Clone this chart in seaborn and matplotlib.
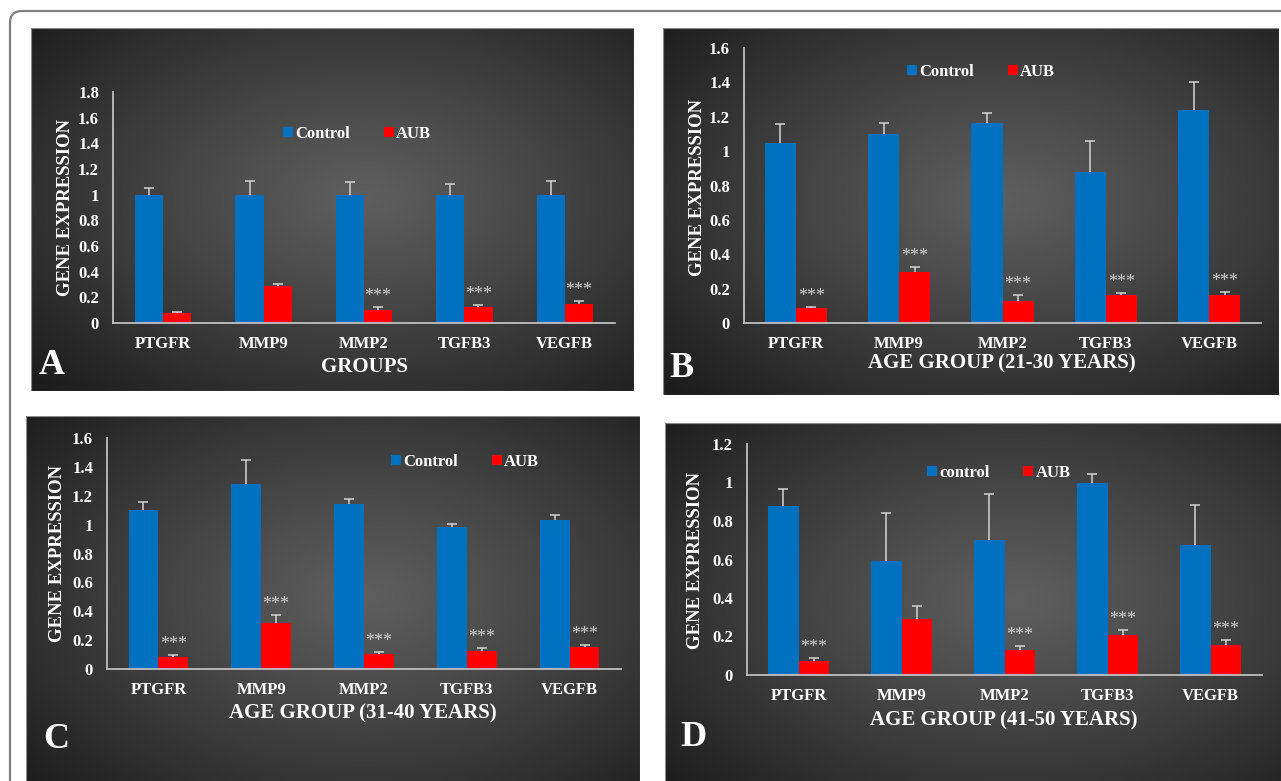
import numpy as np
import pandas as pd
import matplotlib.pyplot as plt
import seaborn as sns
from matplotlib.patches import Patch, FancyBboxPatch, Rectangle
from matplotlib.ticker import FuncFormatter, MultipleLocator
from matplotlib.transforms import IdentityTransform

genes = ["PTGFR", "MMP9", "MMP2", "TGFB3", "VEGFB"]

# A - all groups
a_control = [1.0, 1.0, 1.0, 1.0, 1.0]
a_control_err = [0.05, 0.11, 0.10, 0.08, 0.11]
a_aub = [0.08, 0.285, 0.105, 0.125, 0.148]
a_aub_err = [0.004, 0.02, 0.02, 0.013, 0.02]
a_stars = [False, False, True, True, True]

# B - 21-30 years
b_control = [1.047, 1.10, 1.166, 0.877, 1.241]
b_control_err = [0.111, 0.064, 0.058, 0.182, 0.163]
b_aub = [0.085, 0.295, 0.13, 0.161, 0.161]
b_aub_err = [0.008, 0.029, 0.031, 0.014, 0.021]
b_stars = [True, True, True, True, True]

# C - 31-40 years
c_control = [1.104, 1.282, 1.141, 0.982, 1.035]
c_control_err = [0.055, 0.168, 0.037, 0.023, 0.034]
c_aub = [0.085, 0.318, 0.106, 0.122, 0.15]
c_aub_err = [0.010, 0.054, 0.014, 0.026, 0.016]
c_stars = [True, True, True, True, True]

# D - 41-50 years
d_control = [0.878, 0.592, 0.70, 0.999, 0.674]
d_control_err = [0.086, 0.251, 0.239, 0.045, 0.211]
d_aub = [0.074, 0.293, 0.128, 0.206, 0.154]
d_aub_err = [0.014, 0.065, 0.024, 0.028, 0.028]
d_stars = [True, False, True, True, True]

panels = [
    dict(letter="A", xtitle="GROUPS", ctrl_name="Control", ymax=1.8,
         control=a_control, control_err=a_control_err, aub=a_aub, aub_err=a_aub_err, stars=a_stars,
         bg=(31, 28, 634, 391), ax=(113, 92, 615, 323), width=0.56,
         legend=(357, 134), ylab=(66, 207), xt=(365, 367), lt=(52, 366)),
    dict(letter="B", xtitle="AGE GROUP (21-30 YEARS)", ctrl_name="Control", ymax=1.6,
         control=b_control, control_err=b_control_err, aub=b_aub, aub_err=b_aub_err, stars=b_stars,
         bg=(663, 28, 1279, 395), ax=(744, 48, 1261, 323), width=0.6,
         legend=(981, 72), ylab=(697, 187), xt=(1002, 363), lt=(682, 368)),
    dict(letter="C", xtitle="AGE GROUP (31-40 YEARS)", ctrl_name="Control", ymax=1.6,
         control=c_control, control_err=c_control_err, aub=c_aub, aub_err=c_aub_err, stars=c_stars,
         bg=(26, 416, 640, 800), ax=(107, 438, 621, 669), width=0.58,
         legend=(465, 462), ylab=(58, 553), xt=(363, 713), lt=(56, 740)),
    dict(letter="D", xtitle="AGE GROUP (41-50 YEARS)", ctrl_name="control", ymax=1.2,
         control=d_control, control_err=d_control_err, aub=d_aub, aub_err=d_aub_err, stars=d_stars,
         bg=(665, 423, 1300, 800), ax=(747, 444, 1262, 675), width=0.59,
         legend=(999, 473), ylab=(695, 560), xt=(1004, 720), lt=(693, 737)),
]

BLUE = "#0070C0"
RED = "#FF0000"
W, H = 1281, 781

sns.set_theme(style="white")
plt.rcParams['font.family'] = ['Liberation Serif', 'DejaVu Serif']
plt.rcParams['font.weight'] = 'bold'

fig = plt.figure(figsize=(W / 100, H / 100), dpi=100)
fig.patch.set_facecolor("white")


def fbox(x0, y0, x1, y1):
    return [x0 / W, 1 - y1 / H, (x1 - x0) / W, (y1 - y0) / H]


def gradient(nx=300, ny=200):
    xx, yy = np.meshgrid(np.linspace(0, 1, nx), np.linspace(0, 1, ny))
    d = np.sqrt(((xx - 0.55) / 0.75) ** 2 + ((yy - 0.47) / 0.75) ** 2)
    t = np.clip(d, 0, 1) ** 1.1
    v = 0.37 * (1 - t) + 0.11 * t
    return np.dstack([v, v, v])


# outer rounded frame (only top and left visible)
frame = FancyBboxPatch((10, -60), 1500, H - 11 + 60, boxstyle="round,pad=0,rounding_size=12",
                       transform=IdentityTransform(), facecolor="none", edgecolor="#7f7f7f", lw=1.6)
fig.patches.append(frame)

for p in panels:
    bg = fig.add_axes(fbox(*p["bg"]))
    bg.imshow(gradient(), extent=(0, 1, 0, 1), aspect="auto", origin="upper")
    bg.set_xlim(0, 1)
    bg.set_ylim(0, 1)
    bg.axis("off")
    bg.add_patch(Rectangle((0, 0), 1, 1, transform=bg.transAxes, fill=False,
                           edgecolor="#8a8a8a", lw=0.8))

    ax = fig.add_axes(fbox(*p["ax"]))
    ax.set_facecolor("none")
    df = pd.DataFrame({
        "gene": genes * 2,
        "group": ["Control"] * 5 + ["AUB"] * 5,
        "value": p["control"] + p["aub"],
    })
    sns.barplot(data=df, x="gene", y="value", hue="group", order=genes,
                hue_order=["Control", "AUB"], palette={"Control": BLUE, "AUB": RED},
                width=p["width"], saturation=1, errorbar=None, legend=False,
                linewidth=0, ax=ax)

    # plus-direction error bars only
    for cont, errs in zip(ax.containers, [p["control_err"], p["aub_err"]]):
        xs = [b.get_x() + b.get_width() / 2 for b in cont]
        hs = [b.get_height() for b in cont]
        _, caps, _ = ax.errorbar(xs, hs, yerr=[np.zeros(len(errs)), errs], fmt="none",
                                 ecolor="#d4d4d4", elinewidth=1.1, capsize=3.5, capthick=1.1)
        caps[0].set_visible(False)

    aub_bars = ax.containers[1]
    for b, e, s in zip(aub_bars, p["aub_err"], p["stars"]):
        if s:
            ax.annotate("***", (b.get_x() + b.get_width() / 2, b.get_height() + e),
                        xytext=(0, 1.5), textcoords="offset points", ha="center", va="bottom",
                        color="#d0d0d0", fontsize=13, fontweight="normal")

    ax.set_xlim(-0.5, 4.5)
    ax.set_ylim(0, p["ymax"])
    ax.yaxis.set_major_locator(MultipleLocator(0.2))
    ax.yaxis.set_major_formatter(FuncFormatter(lambda v, pos: f"{round(v, 1):g}"))
    ax.set_xlabel("")
    ax.set_ylabel("")
    for side in ["top", "right"]:
        ax.spines[side].set_visible(False)
    for side in ["left", "bottom"]:
        ax.spines[side].set_color("#bfbfbf")
        ax.spines[side].set_linewidth(1.3)
    ax.tick_params(axis="both", length=0, colors="white", labelsize=12)
    ax.tick_params(axis="y", pad=10)
    ax.tick_params(axis="x", pad=9)
    for lab in ax.get_xticklabels() + ax.get_yticklabels():
        lab.set_fontweight("bold")

    handles = [Patch(facecolor=BLUE, edgecolor="none", label=p["ctrl_name"]),
               Patch(facecolor=RED, edgecolor="none", label="AUB")]
    leg = ax.legend(handles=handles, loc="center", ncol=2, frameon=False,
                    bbox_to_anchor=(p["legend"][0] / W, 1 - p["legend"][1] / H),
                    bbox_transform=fig.transFigure, handlelength=0.6, handleheight=0.6,
                    handletextpad=0.15, columnspacing=2.0,
                    prop={"family": "Liberation Serif", "weight": "bold", "size": 12})
    for t in leg.get_texts():
        t.set_color("white")

    fig.text(p["ylab"][0] / W, 1 - p["ylab"][1] / H, "GENE EXPRESSION", rotation=90,
             ha="center", va="center", color="white", fontsize=13.5, fontweight="bold")
    fig.text(p["xt"][0] / W, 1 - p["xt"][1] / H, p["xtitle"], ha="center", va="center",
             color="white", fontsize=15, fontweight="bold")
    fig.text(p["lt"][0] / W, 1 - p["lt"][1] / H, p["letter"], ha="center", va="center",
             color="white", fontsize=26, fontweight="bold")

fig.savefig("out.png", dpi=100, facecolor="white")
